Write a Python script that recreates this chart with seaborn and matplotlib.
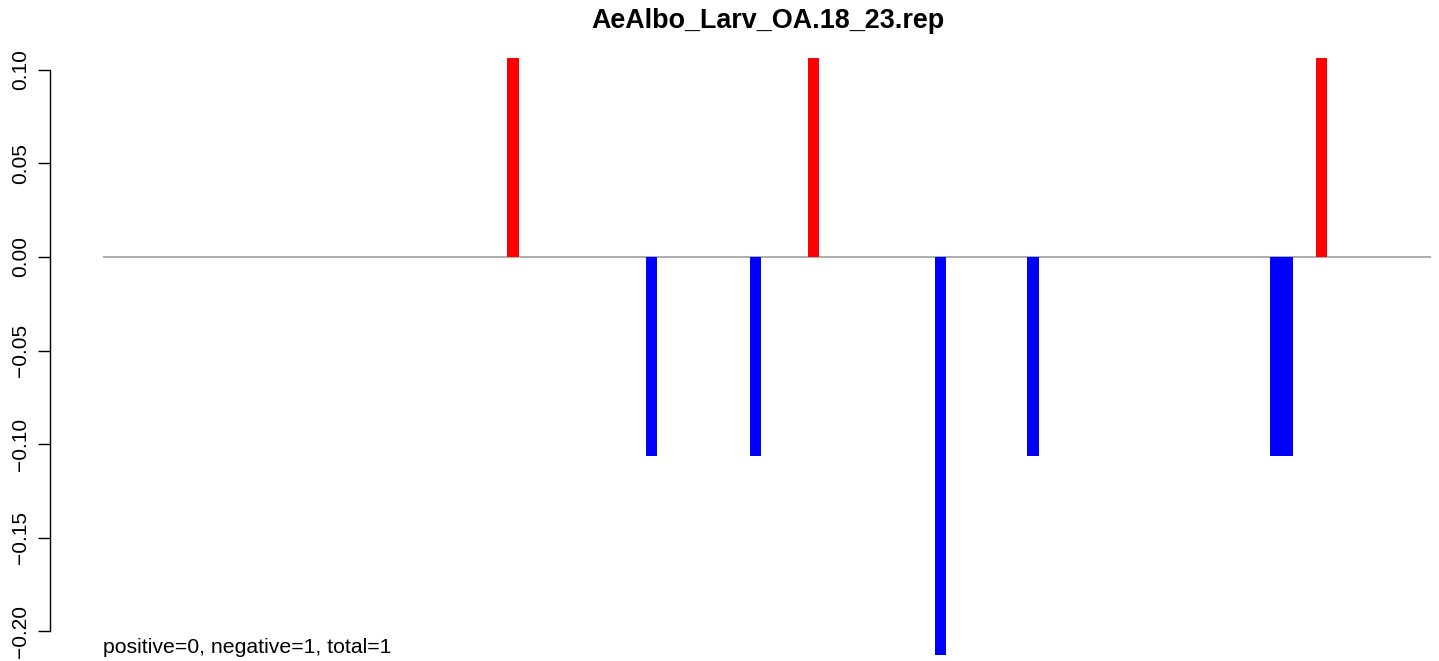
"""
bar profile for AeAlbo_Larv_OA.18_23.rep
"""
import seaborn as sns
import matplotlib
matplotlib.use("Agg")
import matplotlib.pyplot as plt
import pandas as pd

sns.set_style("white")
plt.rcParams["font.family"] = ["Liberation Sans", "DejaVu Sans"]
plt.rcParams["text.color"] = "black"
plt.rcParams["ytick.color"] = "black"
plt.rcParams["ytick.labelcolor"] = "black"

# data: 115 bins, only the non-zero ones are listed
n_bins = 115
positions = [35, 47, 56, 61, 72, 80, 101, 102, 105]
values = [0.1064, -0.1064, -0.1064, 0.1064, -0.2128, -0.1064, -0.1064, -0.1064, 0.1064]
title = "AeAlbo_Larv_OA.18_23.rep"
note = "positive=0, negative=1, total=1"
y_ticks = [-0.20, -0.15, -0.10, -0.05, 0.00, 0.05, 0.10]

df = pd.DataFrame({"pos": positions, "value": values})
df["sign"] = ["pos" if v > 0 else "neg" for v in df["value"]]

W, H = 1439, 661
fig = plt.figure(figsize=(W / 100, H / 100), dpi=100)
# plot region as in the R device (extends past the right/bottom edge)
left, right, top, bottom = 50, 1485, 34, 679
ax = fig.add_axes([left / W, 1 - bottom / H, (right - left) / W, (bottom - top) / H])

sns.barplot(data=df, x="pos", y="value", hue="sign", palette={"pos": "red", "neg": "blue"},
            native_scale=True, width=1.0, linewidth=0, saturation=1, legend=False, ax=ax)

ax.hlines(0, -0.5, n_bins - 0.5, color="#a0a0a0", lw=1.2, zorder=0)
ax.set_xlim(-5.1, n_bins + 4.15)
ax.set_ylim(-0.2256, 0.1192)

ax.set_xticks([])
ax.set_yticks(y_ticks)
ax.set_yticklabels([f"{t:.2f}".replace("-", "\u2212") for t in y_ticks],
                   rotation=90, va="center", fontsize=15)
ax.tick_params(axis="y", direction="out", length=8.6, width=1, pad=6, left=True)
ax.set_xlabel("")
ax.set_ylabel("")

for s in ["top", "right", "bottom"]:
    ax.spines[s].set_visible(False)
ax.spines["left"].set_bounds(-0.20, 0.10)
ax.spines["left"].set_linewidth(1)
ax.spines["left"].set_color("black")

ax.set_title(title, fontsize=19.4, fontweight="bold", pad=1.5, color="black")
ax.text(-0.5, -0.2118, note, fontsize=15.3, va="baseline", ha="left", color="black")

fig.savefig("out.png", dpi=100)
